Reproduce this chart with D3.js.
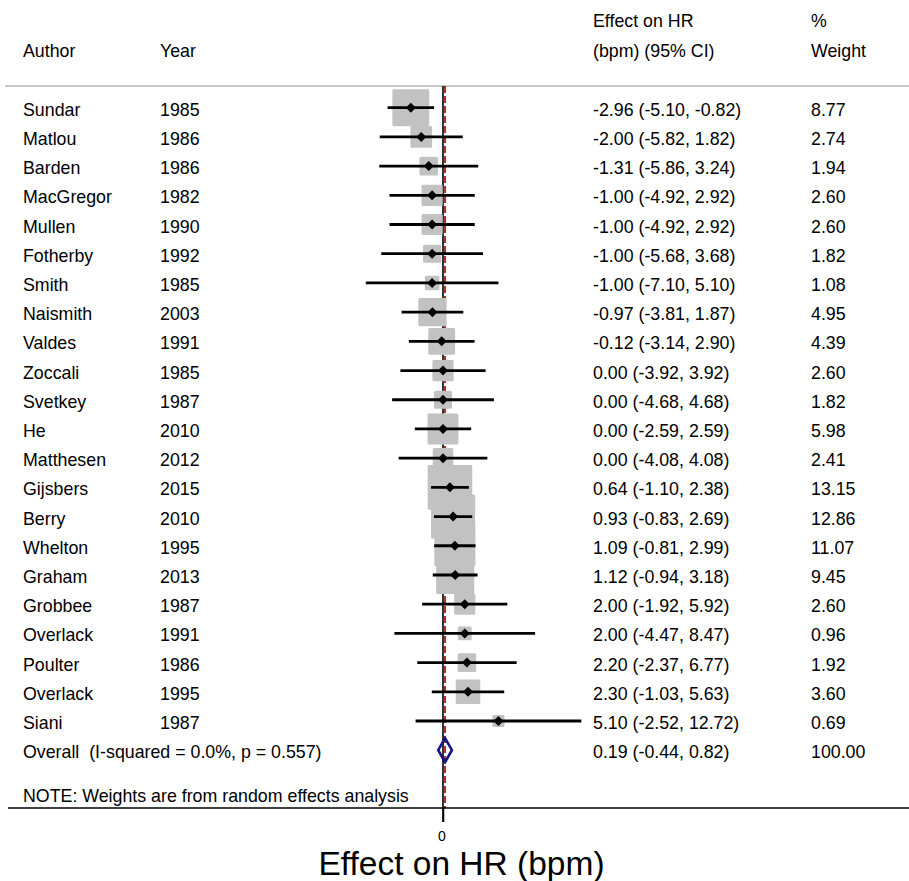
<!DOCTYPE html>
<html>
<head>
<meta charset="utf-8">
<script src="https://cdn.jsdelivr.net/npm/d3@7"></script>
<style>
  html, body { margin: 0; padding: 0; background: #fff; }
  svg { display: block; }
  text { font-family: "Liberation Sans", Arial, sans-serif; fill: #000; }
  text.tick-label { font-size: 14px; }
</style>
</head>
<body>
<svg id="chart" width="909" height="881"></svg>
<script>
// Study-level data
const authors = ["Sundar","Matlou","Barden","MacGregor","Mullen","Fotherby","Smith","Naismith","Valdes","Zoccali","Svetkey","He","Matthesen","Gijsbers","Berry","Whelton","Graham","Grobbee","Overlack","Poulter","Overlack","Siani"];
const years   = [1985,1986,1986,1982,1990,1992,1985,2003,1991,1985,1987,2010,2012,2015,2010,1995,2013,1987,1991,1986,1995,1987];
const effects = [-2.96,-2.00,-1.31,-1.00,-1.00,-1.00,-1.00,-0.97,-0.12,0.00,0.00,0.00,0.00,0.64,0.93,1.09,1.12,2.00,2.00,2.20,2.30,5.10];
const ciLow   = [-5.10,-5.82,-5.86,-4.92,-4.92,-5.68,-7.10,-3.81,-3.14,-3.92,-4.68,-2.59,-4.08,-1.10,-0.83,-0.81,-0.94,-1.92,-4.47,-2.37,-1.03,-2.52];
const ciHigh  = [-0.82,1.82,3.24,2.92,2.92,3.68,5.10,1.87,2.90,3.92,4.68,2.59,4.08,2.38,2.69,2.99,3.18,5.92,8.47,6.77,5.63,12.72];
const weights = [8.77,2.74,1.94,2.60,2.60,1.82,1.08,4.95,4.39,2.60,1.82,5.98,2.41,13.15,12.86,11.07,9.45,2.60,0.96,1.92,3.60,0.69];

// Pooled estimate
const overallEffect = 0.19, overallLow = -0.44, overallHigh = 0.82, overallWeight = 100.00;
const overallLabel = "Overall  (I-squared = 0.0%, p = 0.557)";
const noteLabel = "NOTE: Weights are from random effects analysis";
const xTicks = [0];
const xTitle = "Effect on HR (bpm)";

const svg = d3.select("#chart");
const fontSize = 17.8;

// Scales
const x = d3.scaleLinear().domain([-12.72, 12.72]).range([304.7, 581.3]);
const y = d3.scaleLinear().domain([0, 21]).range([107.7, 721]);
const yOverall = y(22);
const boxSide = d3.scaleSqrt().domain([0, d3.max(weights)]).range([0, 11.6 * Math.sqrt(d3.max(weights))]);

const fmt = v => v.toFixed(2);
const ciText = (e, l, h) => `${fmt(e)} (${fmt(l)}, ${fmt(h)})`;

const colAuthor = 23, colYear = 160, colEffect = 593, colWeight = 811;
const topRule = 86, axisY = 808;

// Column headers
const hdr = svg.append("g").attr("font-size", fontSize);
hdr.append("text").attr("x", colAuthor).attr("y", 57).text("Author");
hdr.append("text").attr("x", colYear).attr("y", 57).text("Year");
hdr.append("text").attr("x", colEffect).attr("y", 27).text("Effect on HR");
hdr.append("text").attr("x", colEffect).attr("y", 57).text("(bpm) (95% CI)");
hdr.append("text").attr("x", colWeight).attr("y", 27).text("%");
hdr.append("text").attr("x", colWeight).attr("y", 57).text("Weight");

// Header rule
svg.append("line")
  .attr("x1", 5).attr("x2", 909).attr("y1", topRule).attr("y2", topRule)
  .attr("stroke", "#c8c8c8").attr("stroke-width", 2.2);

// Null-effect line
svg.append("line")
  .attr("x1", x(0)).attr("x2", x(0)).attr("y1", topRule).attr("y2", axisY + 14)
  .attr("stroke", "#000").attr("stroke-width", 1.6);

// Pooled-effect line
svg.append("line")
  .attr("x1", x(overallEffect)).attr("x2", x(overallEffect)).attr("y1", topRule).attr("y2", axisY)
  .attr("stroke", "#b22a2a").attr("stroke-width", 2).attr("stroke-dasharray", "7,3");

const idx = d3.range(authors.length);

// Weight boxes
svg.append("g").selectAll("rect").data(idx).join("rect")
  .attr("x", i => x(effects[i]) - (boxSide(weights[i]) + 2.5) / 2)
  .attr("y", i => y(i) - (boxSide(weights[i]) + 2.5) / 2)
  .attr("width", i => boxSide(weights[i]) + 2.5)
  .attr("height", i => boxSide(weights[i]) + 2.5)
  .attr("rx", 1.5)
  .attr("fill", "#c2c2c2");

// Confidence intervals
svg.append("g").selectAll("line").data(idx).join("line")
  .attr("x1", i => x(ciLow[i])).attr("x2", i => x(ciHigh[i]))
  .attr("y1", i => y(i)).attr("y2", i => y(i))
  .attr("stroke", "#000").attr("stroke-width", 2.8);

// Point estimates
svg.append("g").selectAll("path").data(idx).join("path")
  .attr("d", i => {
    const cx = x(effects[i]), cy = y(i), r = 5;
    return `M${cx - r},${cy}L${cx},${cy - r}L${cx + r},${cy}L${cx},${cy + r}Z`;
  })
  .attr("fill", "#000");

// Row labels
const rows = svg.append("g").attr("font-size", fontSize);
rows.selectAll("text.author").data(idx).join("text").attr("class", "author")
  .attr("x", colAuthor).attr("y", i => y(i) + 8).text(i => authors[i]);
rows.selectAll("text.year").data(idx).join("text").attr("class", "year")
  .attr("x", colYear).attr("y", i => y(i) + 8).text(i => years[i]);
rows.selectAll("text.eff").data(idx).join("text").attr("class", "eff")
  .attr("x", colEffect).attr("y", i => y(i) + 8).text(i => ciText(effects[i], ciLow[i], ciHigh[i]));
rows.selectAll("text.wt").data(idx).join("text").attr("class", "wt")
  .attr("x", colWeight).attr("y", i => y(i) + 8).text(i => fmt(weights[i]));

// Pooled diamond and row
svg.append("path")
  .attr("d", `M${x(overallLow)},${yOverall}L${x(overallEffect)},${yOverall - 12}L${x(overallHigh)},${yOverall}L${x(overallEffect)},${yOverall + 12}Z`)
  .attr("fill", "none").attr("stroke", "#141482").attr("stroke-width", 2.6).attr("stroke-linejoin", "miter");
rows.append("text").attr("x", colAuthor).attr("y", yOverall + 8)
  .style("white-space", "pre").text(overallLabel);
rows.append("text").attr("x", colEffect).attr("y", yOverall + 8)
  .text(ciText(overallEffect, overallLow, overallHigh));
rows.append("text").attr("x", colWeight).attr("y", yOverall + 8)
  .text(fmt(overallWeight));
rows.append("text").attr("x", colAuthor).attr("y", 802).text(noteLabel);

// Axis: baseline rule, tick marks and tick labels
svg.append("line")
  .attr("x1", 8).attr("x2", 909).attr("y1", axisY).attr("y2", axisY)
  .attr("stroke", "#000").attr("stroke-width", 1.6);
const axis = svg.append("g").attr("transform", `translate(0,${axisY})`)
  .call(d3.axisBottom(x).tickValues(xTicks).tickSize(14).tickFormat(""));
axis.select(".domain").remove();
axis.selectAll(".tick line").attr("stroke", "#000").attr("stroke-width", 1.6);
svg.append("g").selectAll("text").data(xTicks).join("text")
  .attr("class", "tick-label")
  .attr("x", d => x(d) - 1).attr("y", axisY + 33)
  .attr("text-anchor", "middle")
  .text(d => d3.format("d")(d));

svg.append("text")
  .attr("x", 461.5).attr("y", 875)
  .attr("text-anchor", "middle").attr("font-size", 33.5)
  .text(xTitle);
</script>
</body>
</html>
